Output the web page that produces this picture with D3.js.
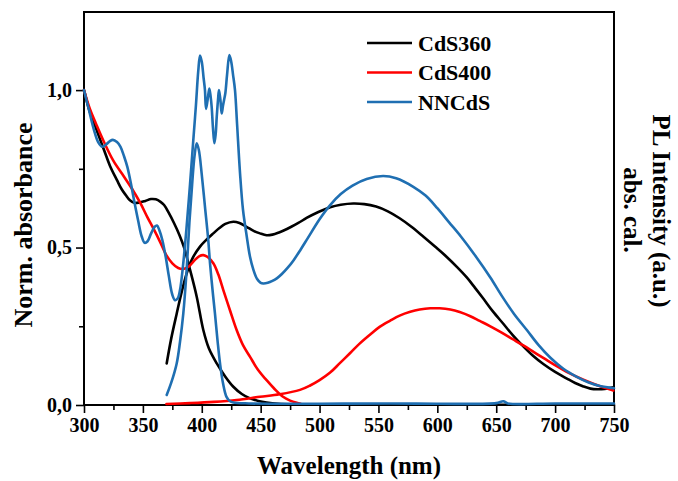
<!DOCTYPE html>
<html>
<head>
<meta charset="utf-8">
<script src="https://cdn.jsdelivr.net/npm/d3@7"></script>
<style>
  html, body { margin: 0; padding: 0; background: #fff; }
  svg { display: block; font-family: "Liberation Serif", "Times New Roman", serif; font-weight: bold; }
</style>
</head>
<body>
<svg id="chart" width="678" height="481"></svg>
<script>
// Spectra as [wavelength (nm), normalised value]
const cds360Abs = [
  [300,1.0],[305,0.93],[310,0.88],[317,0.81],[322,0.76],[328,0.714],[332,0.685],[335.4,0.667],
  [339,0.65],[342.5,0.642],[347,0.643],[352,0.648],[357,0.654],[361,0.653],[365,0.645],[368,0.635],
  [372,0.61],[376.4,0.578],[381,0.54],[385,0.5],[390,0.43],[395.7,0.344],[401.3,0.238],[406,0.18],
  [412.7,0.132],[420,0.09],[426.8,0.058],[434,0.035],[441,0.021],[448,0.013],[455,0.008],[465,0.004],
  [480,0.002],[500,0.001],[600,0.001],[750,0.001]
];
const cds360PL = [
  [370.2,0.132],[374,0.21],[378.7,0.29],[383,0.36],[387.2,0.418],[392,0.465],[398.5,0.503],[404,0.525],
  [409.8,0.545],[415,0.562],[420,0.575],[426.8,0.582],[432,0.578],[438,0.566],[444,0.553],[449.4,0.545],
  [455,0.539],[460,0.541],[465,0.547],[470,0.555],[476,0.566],[482,0.578],[489,0.594],[499,0.613],
  [509,0.628],[518,0.636],[528.6,0.64],[538,0.638],[548,0.63],[558,0.615],[568,0.593],[578,0.566],
  [588,0.535],[598,0.503],[608,0.47],[617,0.437],[625,0.405],[632,0.372],[639,0.338],[647,0.298],
  [656,0.258],[664,0.222],[673,0.186],[681,0.157],[690,0.13],[700,0.105],[710,0.084],[717,0.07],
  [724,0.059],[730,0.052],[736,0.05],[742,0.051],[749.4,0.056]
];
const cds400Abs = [
  [300,1.0],[305,0.94],[310,0.895],[317,0.835],[325,0.775],[334,0.725],[341,0.685],[348,0.64],
  [354,0.595],[359,0.56],[365,0.515],[370,0.475],[375,0.45],[380,0.435],[384.3,0.432],[389,0.44],
  [394,0.46],[398,0.473],[401.3,0.476],[405,0.47],[409.8,0.45],[414,0.415],[418.3,0.365],[424,0.3],
  [429.6,0.238],[435,0.19],[441,0.153],[448,0.11],[455,0.079],[462,0.05],[469,0.026],[475,0.014],
  [480.6,0.007],[484,0.004]
];
const cds400PL = [
  [370,0.003],[390,0.006],[410,0.01],[429.6,0.016],[449.4,0.026],[466,0.034],[483.4,0.048],[492,0.062],
  [500,0.079],[509,0.103],[517,0.132],[526,0.165],[534,0.195],[543,0.224],[551,0.248],[560,0.268],
  [568,0.284],[577,0.296],[585,0.303],[594,0.307],[602,0.307],[611,0.303],[619,0.295],[628,0.282],
  [636,0.267],[645,0.25],[655,0.229],[664,0.209],[673,0.189],[682,0.168],[691,0.147],[701,0.124],
  [712,0.101],[724,0.08],[737,0.061],[749.4,0.046]
];
const nncdsAbs = [
  [300,1.0],[304,0.94],[308.5,0.873],[312,0.835],[315.6,0.82],[319,0.828],[322,0.838],[324.5,0.842],
  [328,0.835],[331,0.82],[334,0.79],[336.8,0.756],[340,0.7],[342.5,0.65],[346,0.585],[349,0.535],
  [351.5,0.515],[354,0.52],[357,0.545],[360,0.566],[362,0.57],[364,0.555],[366.5,0.524],[369.4,0.47],
  [372,0.41],[375,0.35],[377.3,0.333],[379.5,0.338],[381.5,0.365],[384,0.44],[387,0.56],[390,0.7],
  [392.8,0.841],[395,0.95],[397,1.06],[398.5,1.11],[400,1.09],[401.5,1.04],[402.7,1.0],[403.6,0.94],
  [405,0.97],[406.4,1.005],[407.5,0.98],[408.4,0.947],[409.5,0.88],[410.7,0.831],[411.8,0.86],
  [412.7,0.915],[413.8,0.97],[414.6,1.0],[415.8,0.97],[416.9,0.926],[418,0.95],[418.9,0.968],
  [420,0.99],[421.5,1.05],[423.4,1.111],[425,1.09],[426.5,1.05],[428.2,1.0],[430,0.89],[432.5,0.735],
  [435,0.62],[438,0.54],[441,0.47],[443.8,0.43],[447,0.4],[450,0.388],[452.2,0.386],[456,0.388],
  [460,0.394],[464,0.403],[468,0.416],[473,0.436],[478,0.46],[484,0.494],[490,0.53],[500,0.59],
  [509,0.635],[518,0.67],[528,0.697],[540,0.718],[554,0.727],[565,0.72],[579.6,0.693],[590,0.665],
  [600,0.625],[610,0.58],[620,0.535],[633,0.47],[645,0.405],[655,0.345],[665,0.29],[676,0.238],
  [686,0.19],[696,0.15],[707,0.115],[718,0.09],[728,0.072],[738,0.06],[750,0.053]
];
const nncdsPL = [
  [370.2,0.032],[374,0.07],[378.7,0.132],[381.5,0.2],[384.3,0.29],[387,0.42],[389.5,0.58],[391.8,0.7],
  [393.8,0.79],[395.7,0.831],[397.5,0.81],[399.9,0.735],[402.7,0.63],[405.5,0.524],[407,0.45],
  [409,0.37],[411.2,0.29],[413.5,0.2],[415.5,0.132],[418,0.07],[421,0.026],[424,0.012],[426.8,0.008],
  [440,0.005],[500,0.004],[560,0.005],[600,0.004],[650,0.006],[656,0.012],[660,0.005],[700,0.005],[750,0.005]
];

const legendNames = ["CdS360", "CdS400", "NNCdS"];
const seriesColors = ["#000000", "#ff0000", "#1f6fb2"];
const xMajorTicks = [300, 350, 400, 450, 500, 550, 600, 650, 700, 750];
const xMinorTicks = [325, 375, 425, 475, 525, 575, 625, 675, 725];
const yMajorTicks = [0, 0.5, 1.0];
const yMinorTicks = [0.25, 0.75];

const W = 678, H = 481;
const margin = { top: 12, right: 64, bottom: 76, left: 84 };
const svg = d3.select("#chart");

const x = d3.scaleLinear().domain([300, 750]).range([margin.left, W - margin.right]);
const y = d3.scaleLinear().domain([0, 1.248]).range([H - margin.bottom, margin.top]);

const commaFmt = d3.formatLocale({ decimal: ",", thousands: ".", grouping: [3], currency: ["", ""] }).format(".1f");

// axes
svg.append("g").attr("transform", `translate(0,${y(0)})`)
  .call(d3.axisBottom(x).tickValues(xMajorTicks).tickSize(8).tickPadding(5).tickFormat(d3.format("d")));
svg.append("g").attr("transform", `translate(0,${y(0)})`)
  .call(d3.axisBottom(x).tickValues(xMinorTicks).tickSize(5).tickFormat(""));
svg.append("g").attr("transform", `translate(${x(300)},0)`)
  .call(d3.axisLeft(y).tickValues(yMajorTicks).tickSize(8).tickPadding(4).tickFormat(commaFmt));
svg.append("g").attr("transform", `translate(${x(300)},0)`)
  .call(d3.axisLeft(y).tickValues(yMinorTicks).tickSize(5).tickFormat(""));

svg.selectAll(".domain").remove();
svg.selectAll(".tick line").attr("stroke", "#000").attr("stroke-width", 1.6);
svg.selectAll(".tick text").attr("fill", "#000")
  .style("font-family", "'Liberation Serif', 'Times New Roman', serif")
  .style("font-weight", "bold").style("font-size", "20px");

// frame
svg.append("rect")
  .attr("x", x(300)).attr("y", y(1.248))
  .attr("width", x(750) - x(300)).attr("height", y(0) - y(1.248))
  .attr("fill", "none").attr("stroke", "#000").attr("stroke-width", 2);

// curves
const line = d3.line().x(d => x(d[0])).y(d => y(d[1])).curve(d3.curveCatmullRom.alpha(0.5));
const curves = [
  [cds360Abs, 0], [cds360PL, 0],
  [cds400Abs, 1], [cds400PL, 1],
  [nncdsAbs, 2], [nncdsPL, 2]
];
svg.append("g").selectAll("path").data(curves).join("path")
  .attr("d", d => line(d[0]))
  .attr("fill", "none")
  .attr("stroke", d => seriesColors[d[1]])
  .attr("stroke-width", 2.6)
  .attr("stroke-linejoin", "round")
  .attr("stroke-linecap", "round");

// legend
const lg = svg.append("g");
legendNames.forEach((name, i) => {
  const ly = 43 + i * 29.5;
  lg.append("line").attr("x1", 367).attr("x2", 412).attr("y1", ly).attr("y2", ly)
    .attr("stroke", seriesColors[i]).attr("stroke-width", 2.6);
  lg.append("text").attr("x", 418).attr("y", ly + 7.5)
    .attr("font-size", 22).attr("fill", "#000").text(name);
});

// axis titles
svg.append("text").attr("x", 349).attr("y", 474).attr("text-anchor", "middle")
  .attr("font-size", 25).text("Wavelength (nm)");
svg.append("text").attr("transform", "translate(32,225) rotate(-90)").attr("text-anchor", "middle")
  .attr("font-size", 26).text("Norm. absorbance");
svg.append("text").attr("transform", "translate(653,211) rotate(90)").attr("text-anchor", "middle")
  .attr("font-size", 25).text("PL Intensity (a.u.)");
svg.append("text").attr("transform", "translate(624,210) rotate(90)").attr("text-anchor", "middle")
  .attr("font-size", 25).text("abs. cal.");
</script>
</body>
</html>
